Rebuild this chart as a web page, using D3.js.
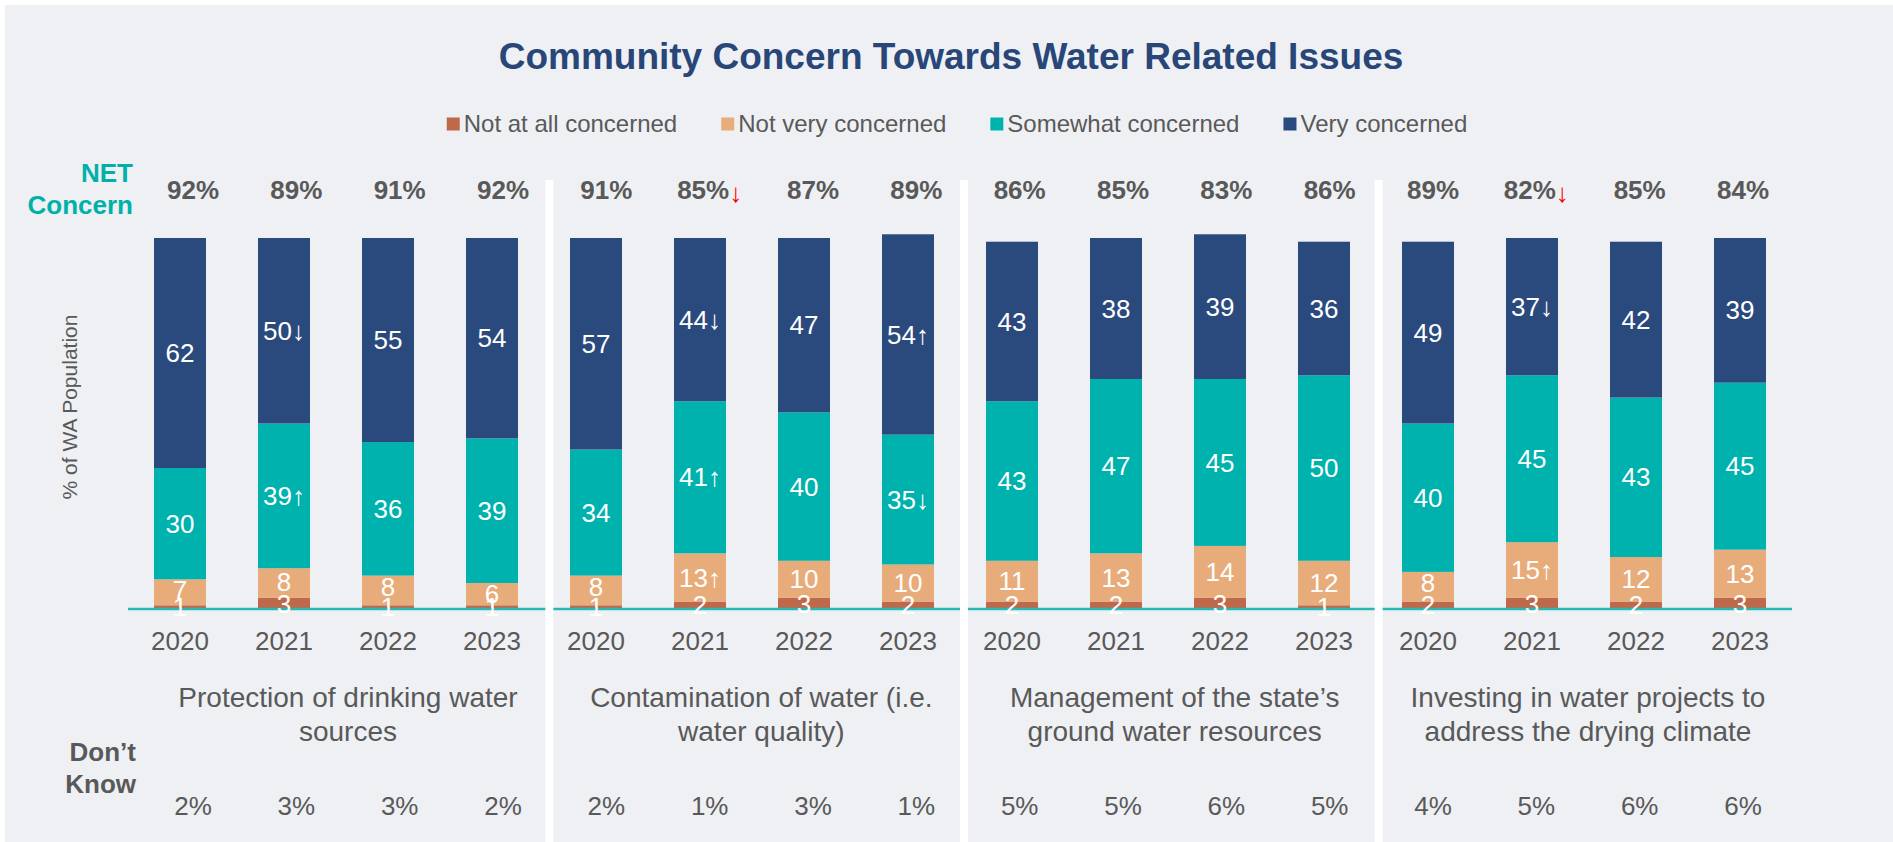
<!DOCTYPE html>
<html><head><meta charset="utf-8">
<script src="https://cdn.jsdelivr.net/npm/d3@7"></script>
<style>
body{margin:0;background:#fff;}
svg{display:block;font-family:"Liberation Sans",Arial,Helvetica,sans-serif;}
</style>
</head><body><div id="chart"></div>
<script>
// ---------- data ----------
const years = ["2020", "2021", "2022", "2023"];
const issues = [
  ["Protection of drinking water", "sources"],
  ["Contamination of water (i.e.", "water quality)"],
  ["Management of the state\u2019s", "ground water resources"],
  ["Investing in water projects to", "address the drying climate"]
];
const seriesNames = ["Not at all concerned", "Not very concerned", "Somewhat concerned", "Very concerned"];
const notAtAll  = [1, 3, 1, 1,   1, 2, 3, 2,   2, 2, 3, 1,   2, 3, 2, 3];
const notVery   = [7, 8, 8, 6,   8, 13, 10, 10, 11, 13, 14, 12, 8, 15, 12, 13];
const somewhat  = [30, 39, 36, 39, 34, 41, 40, 35, 43, 47, 45, 50, 40, 45, 43, 45];
const very      = [62, 50, 55, 54, 57, 44, 47, 54, 43, 38, 39, 36, 49, 37, 42, 39];
// significance markers: "u" = up, "d" = down, "" = none
const sigNotAtAll = ["","","","", "","","","", "","","","", "","","",""];
const sigNotVery  = ["","","","", "","u","","", "","","","", "","u","",""];
const sigSomewhat = ["","u","","", "","u","","d", "","","","", "","","",""];
const sigVery     = ["","d","","", "","d","","u", "","","","", "","d","",""];
const netConcern  = [92, 89, 91, 92, 91, 85, 87, 89, 86, 85, 83, 86, 89, 82, 85, 84];
const netSig      = ["","","","", "","d","","", "","","","", "","d","",""];
const dontKnow    = [2, 3, 3, 2, 2, 1, 3, 1, 5, 5, 6, 5, 4, 5, 6, 6];

// ---------- setup ----------
const W = 1893, H = 842;
const colors = ["#c0694a", "#e8ac7a", "#00b2ae", "#2a4a7e"];
const grey = "#595959";
const teal = "#00b0a9";
const arrow = s => s === "u" ? "\u2191" : (s === "d" ? "\u2193" : "");

const rows = d3.range(16).map(i => ({
  i,
  v: [notAtAll[i], notVery[i], somewhat[i], very[i]],
  s: [sigNotAtAll[i], sigNotVery[i], sigSomewhat[i], sigVery[i]]
}));
const stacked = d3.stack().keys([0, 1, 2, 3]).value((d, k) => d.v[k])(rows);

const x = d3.scaleBand().domain(d3.range(16)).range([128, 1792]).paddingInner(0.5).paddingOuter(0.25);
const col = d3.scalePoint().domain(d3.range(16)).range([193, 1743]);
const y = d3.scaleLinear().domain([0, 100]).range([609, 238]);

const svg = d3.select("#chart").append("svg").attr("width", W).attr("height", H);

// background
svg.append("rect").attr("width", W).attr("height", H).attr("fill", "#ffffff");
svg.append("rect").attr("x", 5).attr("y", 5).attr("width", W - 5).attr("height", H - 5).attr("fill", "#eef0f4");

// title
svg.append("text").attr("x", 951).attr("y", 69).attr("text-anchor", "middle")
  .attr("font-size", 37).attr("font-weight", "bold").attr("fill", "#284678")
  .text("Community Concern Towards Water Related Issues");

// legend
const lg = svg.append("g");
let lx = 0;
seriesNames.forEach((name, k) => {
  const g = lg.append("g").attr("transform", `translate(${lx},0)`);
  g.append("rect").attr("x", 0).attr("y", -6.5).attr("width", 13).attr("height", 13).attr("fill", colors[k]);
  const t = g.append("text").attr("x", 17).attr("y", 0).attr("dy", "0.35em")
    .attr("font-size", 24).attr("fill", grey).text(name);
  lx += 17 + t.node().getComputedTextLength() + 44;
});
const lw = lx - 44;
lg.attr("transform", `translate(${957 - lw / 2},124)`);

// bars
const layers = svg.append("g").selectAll("g").data(stacked).join("g").attr("fill", (d, k) => colors[k]);
layers.selectAll("rect").data(d => d).join("rect")
  .attr("x", d => x(d.data.i))
  .attr("width", x.bandwidth())
  .attr("y", d => y(d[1]))
  .attr("height", d => y(d[0]) - y(d[1]));

// baseline
svg.append("line").attr("x1", x.range()[0]).attr("x2", x.range()[1])
  .attr("y1", y(0)).attr("y2", y(0)).attr("stroke", "#2ab7b2").attr("stroke-width", 2.5);

// panel separators
[1, 2, 3].forEach(p => {
  const gapBar = (x(4 * p - 1) + x.bandwidth() + x(4 * p)) / 2;
  const gapCol = (col(4 * p - 1) + col(4 * p)) / 2;
  const sx = (gapBar + gapCol) / 2;
  svg.append("rect").attr("x", sx - 4).attr("y", 180).attr("width", 8).attr("height", H - 180).attr("fill", "#ffffff");
});

// segment labels (centred; nudged upward within the segment when crowding the label below)
const labelY = {};
rows.forEach((r, idx) => {
  let prev = null;
  stacked.forEach((layer, k) => {
    const d = layer[idx];
    const top = y(d[1]), bot = y(d[0]);
    let cy = (top + bot) / 2;
    if (prev !== null && prev - cy < 22) cy = Math.max(prev - 22, Math.min(cy, top + 11));
    labelY[k + "_" + idx] = cy;
    prev = cy;
  });
});
const lab = svg.append("g").attr("font-size", 26).attr("fill", "#ffffff").attr("text-anchor", "middle");
stacked.forEach((layer, k) => {
  lab.append("g").selectAll("text").data(layer).join("text")
    .attr("x", d => x(d.data.i) + x.bandwidth() / 2)
    .attr("y", d => labelY[k + "_" + d.data.i])
    .attr("dy", "0.35em")
    .text(d => d.data.v[k] + arrow(d.data.s[k]));
});

// year axis
const ax = svg.append("g").attr("transform", `translate(0,${y(0)})`)
  .call(d3.axisBottom(x).tickSize(0).tickFormat(i => years[i % 4]));
ax.select(".domain").remove();
ax.selectAll("text").attr("y", 32).attr("dy", "0.35em")
  .attr("font-size", 26).attr("fill", grey)
  .attr("font-family", "'Liberation Sans',Arial,sans-serif");

// issue labels
issues.forEach((lines, p) => {
  const cx = (col(4 * p) + col(4 * p + 3)) / 2;
  const t = svg.append("text").attr("text-anchor", "middle").attr("font-size", 28).attr("fill", grey);
  lines.forEach((ln, j) => {
    t.append("tspan").attr("x", cx).attr("y", 697 + j * 34).attr("dy", "0.35em").text(ln);
  });
});

// NET concern header
const net = svg.append("text").attr("text-anchor", "end").attr("font-size", 26)
  .attr("font-weight", "bold").attr("fill", teal);
net.append("tspan").attr("x", 133).attr("y", 173).attr("dy", "0.35em").text("NET");
net.append("tspan").attr("x", 133).attr("y", 205).attr("dy", "0.35em").text("Concern");

const netT = svg.append("g").selectAll("text").data(netConcern).join("text")
  .attr("x", (d, i) => col(i)).attr("y", 190).attr("dy", "0.35em")
  .attr("text-anchor", "middle").attr("font-size", 26).attr("font-weight", "bold").attr("fill", grey);
netT.append("tspan").text(d => d + "%");
netT.append("tspan").attr("fill", "#ff0000").attr("font-weight", "normal").attr("dy", "3")
  .text((d, i) => arrow(netSig[i]));

// Don't know
const dk = svg.append("text").attr("text-anchor", "end").attr("font-size", 26)
  .attr("font-weight", "bold").attr("fill", grey);
dk.append("tspan").attr("x", 136).attr("y", 752).attr("dy", "0.35em").text("Don\u2019t");
dk.append("tspan").attr("x", 136).attr("y", 784).attr("dy", "0.35em").text("Know");

svg.append("g").selectAll("text").data(dontKnow).join("text")
  .attr("x", (d, i) => col(i)).attr("y", 806).attr("dy", "0.35em")
  .attr("text-anchor", "middle").attr("font-size", 26).attr("fill", grey)
  .text(d => d + "%");

// y axis title
svg.append("text").attr("transform", "translate(70,407) rotate(-90)")
  .attr("text-anchor", "middle").attr("dy", "0.35em")
  .attr("font-size", 21).attr("fill", grey).text("% of WA Population");
</script>
</body></html>
